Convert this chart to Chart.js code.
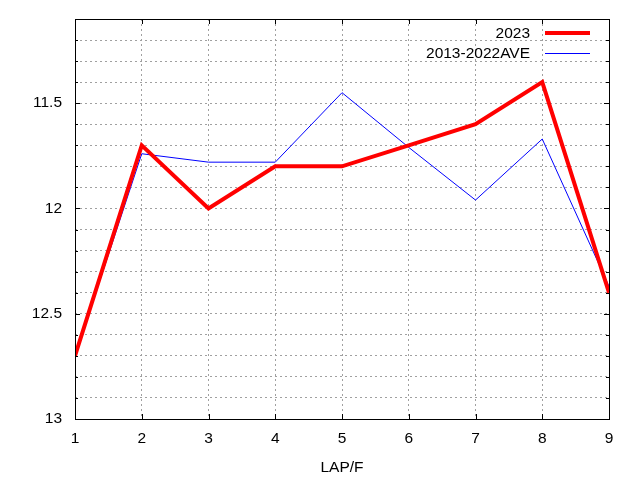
<!DOCTYPE html>
<html>
<head>
<meta charset="utf-8">
<script src="https://cdn.jsdelivr.net/npm/chart.js@4.4.1/dist/chart.umd.min.js"></script>
<style>
html,body{margin:0;padding:0;background:#fff;}
#wrap{width:640px;height:480px;}
</style>
</head>
<body>
<div id="wrap"><canvas id="c" width="640" height="480"></canvas></div>
<script>
const laps = [1, 2, 3, 4, 5, 6, 7, 8, 9];
const series2023 = [12.7, 11.7, 12.0, 11.8, 11.8, 11.7, 11.6, 11.4, 12.4];
const seriesAve = [12.7, 11.74, 11.78, 11.78, 11.45, 11.71, 11.96, 11.67, 12.37];
const seriesLabels = ['2023', '2013-2022AVE'];
const xTitle = 'LAP/F';
const yMin = 11.1, yMax = 13.0;

const FONT = 'Liberation Sans, Arial, sans-serif';
const FS = 15.5;

const isMajor = v => Math.abs(v * 2 - Math.round(v * 2)) < 1e-6;

const framePlugin = {
  id: 'frame',
  afterDatasetsDraw(chart) {
    const ctx = chart.ctx, a = chart.chartArea;
    const xs = chart.scales.x, ys = chart.scales.y;
    ctx.save();
    ctx.strokeStyle = '#000';
    ctx.lineWidth = 1;
    ctx.setLineDash([]);
    ctx.strokeRect(Math.round(a.left) + 0.5, Math.round(a.top) + 0.5,
      Math.round(a.right - a.left), Math.round(a.bottom - a.top));
    ctx.beginPath();
    ys.ticks.forEach(t => {
      const y = Math.round(ys.getPixelForValue(t.value)) + 0.5;
      const len = isMajor(t.value) ? 5 : 3;
      ctx.moveTo(a.left, y); ctx.lineTo(a.left + len, y);
      ctx.moveTo(a.right, y); ctx.lineTo(a.right - len, y);
    });
    xs.ticks.forEach(t => {
      const x = Math.round(xs.getPixelForValue(t.value)) + 0.5;
      ctx.moveTo(x, a.bottom); ctx.lineTo(x, a.bottom - 5);
      ctx.moveTo(x, a.top); ctx.lineTo(x, a.top + 5);
    });
    ctx.stroke();
    ctx.font = FS + 'px ' + FONT;
    ctx.textAlign = 'right';
    ctx.textBaseline = 'middle';
    ctx.fillStyle = '#000';
    chart.data.datasets.forEach((ds, i) => {
      const y = 33 + i * 19.5;
      ctx.fillText(ds.label, 530, y + 1);
      ctx.beginPath();
      ctx.strokeStyle = ds.borderColor;
      ctx.lineWidth = ds.borderWidth;
      const yy = Math.round(y) + (ds.borderWidth % 2 ? 0.5 : 0);
      ctx.moveTo(545, yy);
      ctx.lineTo(590, yy);
      ctx.stroke();
    });
    ctx.restore();
  }
};

new Chart(document.getElementById('c'), {
  type: 'line',
  data: {
    datasets: [
      {
        label: seriesLabels[0],
        data: laps.map((x, i) => ({x: x, y: series2023[i]})),
        borderColor: '#ff0000',
        borderWidth: 4,
        pointRadius: 0,
        tension: 0,
        fill: false
      },
      {
        label: seriesLabels[1],
        data: laps.map((x, i) => ({x: x, y: seriesAve[i]})),
        borderColor: '#0000ff',
        borderWidth: 1,
        pointRadius: 0,
        tension: 0,
        fill: false
      }
    ]
  },
  options: {
    responsive: false,
    animation: false,
    devicePixelRatio: 1,
    layout: {padding: {top: 19, right: 31, bottom: 0, left: 0}},
    plugins: {legend: {display: false}, tooltip: {enabled: false}},
    scales: {
      x: {
        type: 'linear',
        min: 1, max: 9,
        ticks: {stepSize: 1, color: '#000', font: {family: FONT, size: FS}, padding: 10, maxRotation: 0},
        grid: {color: '#a0a0a0', lineWidth: 1, drawTicks: false},
        border: {display: false, dash: [2, 3]},
        title: {display: true, text: xTitle, color: '#000', font: {family: FONT, size: FS}, padding: {top: 0, bottom: 3}},
        afterFit(s) { s.height = 61; s.paddingLeft = 0; s.paddingRight = 0; }
      },
      y: {
        type: 'linear',
        reverse: true,
        min: yMin, max: yMax,
        ticks: {
          stepSize: 0.1, autoSkip: false, color: '#000',
          font: {family: FONT, size: FS}, padding: 13,
          callback: v => isMajor(v) ? String(Number(v.toFixed(1))) : ''
        },
        grid: {color: '#a0a0a0', lineWidth: 1, drawTicks: false},
        border: {display: false, dash: [2, 3]},
        afterFit(s) { s.width = 75; s.paddingTop = 0; s.paddingBottom = 0; }
      }
    }
  },
  plugins: [framePlugin]
});
</script>
</body>
</html>
